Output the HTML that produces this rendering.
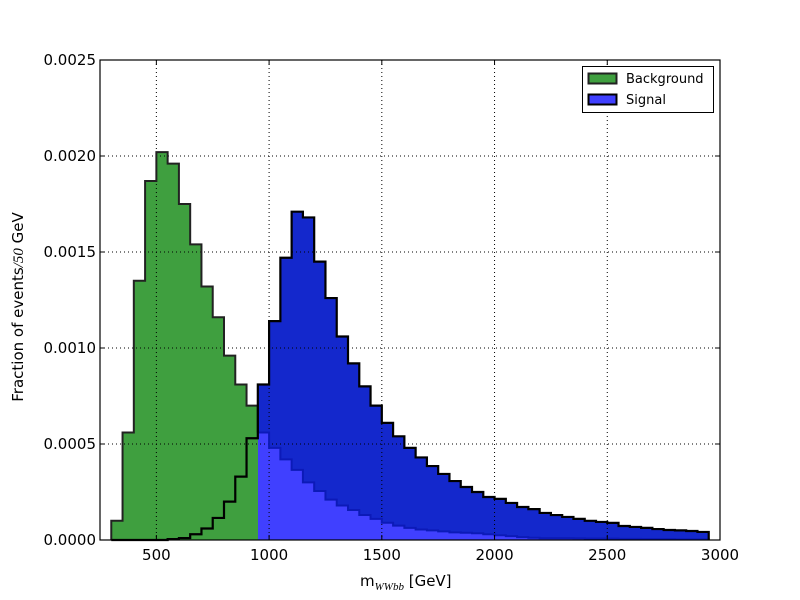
<!DOCTYPE html>
<html><head><meta charset="utf-8"><style>
html,body{margin:0;padding:0;background:#fff;}
svg text{font-family:"DejaVu Sans","Liberation Sans",sans-serif;}
</style></head><body>
<svg id="chart" width="800" height="600" viewBox="0 0 800 600" xmlns="http://www.w3.org/2000/svg" style="position:absolute;left:0;top:0">
<rect width="800" height="600" fill="#fff"/>
<g id="fills" shape-rendering="crispEdges"></g>
<g id="grid"></g>
<g id="outlines"></g>
<g id="axes"></g>
</svg>
<script>
const binStart = 300;
const binWidth = 50;
const background = [0.0001,0.00056,0.00135,0.00187,0.00202,0.00196,0.00175,0.00154,0.00132,0.00116,0.00096,0.00081,0.0007,
 0.00056,0.00048,0.00042,0.000365,0.0003,0.000255,0.00021,0.00018,0.000156,0.00013,0.00011,0.00009,0.000075,0.000063,
 0.000055,0.00005,0.000045,0.00004,0.000038,0.000035,0.00003,0.000025,0.00002,0.000015,0.000012,0.00001,0.00001,0.00001,0.000009,0.000008,0.000008,0.000007,0.000006,0.000006,0.000005,0.000005,0.000005,0.000004,0.000004,0.000004];
const signal = [0,0,0,0,0,0.000005,0.00001,0.00003,0.00006,0.000115,0.0002,0.00033,0.00053,
 0.00081,0.00114,0.00147,0.00171,0.00168,0.00145,0.00126,0.00106,0.00092,0.0008,0.0007,0.00061,0.00054,0.00048,
 0.00043,0.000385,0.000344,0.000307,0.000276,0.00025,0.000224,0.000214,0.000193,0.000172,0.000161,0.000141,0.00013,0.00012,0.00011,0.0001,0.000094,0.000089,0.000073,0.000068,0.000063,0.000057,0.000052,0.00005,0.000047,0.000042];
const xTicks = [500,1000,1500,2000,2500,3000];
const yTicks = [0,0.0005,0.001,0.0015,0.002,0.0025];
const yTickLabels = ["0.0000","0.0005","0.0010","0.0015","0.0020","0.0025"];

const X0=100,X1=720,Y0=540,Y1=60, xmin=250,xmax=3000,ymax=0.0025;
const sx=v=>X0+(v-xmin)/(xmax-xmin)*(X1-X0);
const sy=v=>Y0-v/ymax*(Y0-Y1);
const NS="http://www.w3.org/2000/svg";
function mk(tag,attrs,parent){const e=document.createElementNS(NS,tag);for(const k in attrs)e.setAttribute(k,attrs[k]);parent.appendChild(e);return e;}
const fills=document.getElementById('fills'),grid=document.getElementById('grid'),outl=document.getElementById('outlines'),axes=document.getElementById('axes');
const n=Math.max(background.length,signal.length);
for(let i=0;i<n;i++){
  const b=background[i]||0,s=signal[i]||0;
  const xa=sx(binStart+i*binWidth),xb=sx(binStart+(i+1)*binWidth)+0.6;
  const lo=Math.min(b,s),hi=Math.max(b,s);
  if(lo>0){const r=mk('rect',{x:xa,y:sy(lo),width:xb-xa,height:sy(0)-sy(lo),fill:b>=s?'#3f9f3f':'#4040ff'},fills);
    
    }
  if(hi>lo){const r=mk('rect',{x:xa,y:sy(hi),width:xb-xa,height:sy(lo)-sy(hi)+0.6,fill:b>s?'#3f9f3f':'#1428cc'},fills);
    
    }
}
function stepPath(arr,from,to,fromZero){
  let d='';
  for(let i=from;i<to;i++){
    const v=arr[i]||0;const xa=sx(binStart+i*binWidth),xb=sx(binStart+(i+1)*binWidth);
    if(i===from){d+= fromZero?`M${xa},${sy(0)} L${xa},${sy(v)}`:`M${xa},${sy(v)}`;}else d+=` L${xa},${sy(v)}`;
    d+=` L${xb},${sy(v)}`;
  }
  return d;
}
xTicks.forEach(t=>{if(t>xmin&&t<xmax){const l=mk('line',{x1:sx(t),x2:sx(t),y1:Y1,y2:Y0,stroke:'#000','stroke-width':1,'stroke-dasharray':'1,3'},grid);
  
  }});
yTicks.forEach(t=>{if(t>0&&t<ymax){const l=mk('line',{x1:X0,x2:X1,y1:sy(t),y2:sy(t),stroke:'#000','stroke-width':1,'stroke-dasharray':'1,3'},grid);
  
  }});
const split=13;
let p=mk('path',{d:stepPath(background,0,split,true)+` L${sx(binStart+split*binWidth)},${sy(background[split])}`,fill:'none',stroke:'#222','stroke-width':2},outl);


p=mk('path',{d:stepPath(background,split,background.length,false)+` L${sx(binStart+background.length*binWidth)},${sy(0)}`,fill:'none',stroke:'#0c1ab8','stroke-width':2},outl);


p=mk('path',{d:stepPath(signal,0,signal.length,true)+` L${sx(binStart+signal.length*binWidth)},${sy(0)}`,fill:'none',stroke:'#000','stroke-width':2.2},outl);


let f=mk('rect',{x:X0,y:Y1,width:X1-X0,height:Y0-Y1,fill:'none',stroke:'#000','stroke-width':1.2},axes);


xTicks.forEach(t=>{
  const x=sx(t);
  mk('line',{x1:x,x2:x,y1:Y0,y2:Y0-5,stroke:'#000'},axes);
  mk('line',{x1:x,x2:x,y1:Y1,y2:Y1+5,stroke:'#000'},axes);
  const tx=mk('text',{x:x,y:Y0+20,'font-size':15,'text-anchor':'middle',fill:'#000'},axes);tx.textContent=t;
  
  
});
yTicks.forEach((t,i)=>{
  const y=sy(t);
  mk('line',{x1:X0,x2:X0+5,y1:y,y2:y,stroke:'#000'},axes);
  mk('line',{x1:X1,x2:X1-5,y1:y,y2:y,stroke:'#000'},axes);
  const tx=mk('text',{x:X0-4,y:y+5,'font-size':15,'text-anchor':'end',fill:'#000'},axes);tx.textContent=yTickLabels[i];
  
  
});
</script>
<svg width="800" height="600" style="position:absolute;left:0;top:0" xmlns="http://www.w3.org/2000/svg">
<text x="360" y="586" font-size="15" font-family="DejaVu Sans, sans-serif">m<tspan font-size="11" font-style="italic" font-family="Liberation Serif, serif" dy="4">WWbb</tspan><tspan dy="-4"> [GeV]</tspan></text>
<text transform="translate(23,307) rotate(-90)" text-anchor="middle" font-size="15" font-family="DejaVu Sans, sans-serif">Fraction of events<tspan font-style="italic" font-family="Liberation Serif, serif">/50</tspan> GeV</text>
<g>
<rect x="582.5" y="66.5" width="131" height="46" fill="#fff" stroke="#000" stroke-width="1"/>
<rect x="588.5" y="73.5" width="28" height="10" fill="#3f9f3f" stroke="#222" stroke-width="2"/>
<text x="626" y="83" font-size="13" font-family="DejaVu Sans, sans-serif">Background</text>
<rect x="588.5" y="94.5" width="28" height="10" fill="#4040ff" stroke="#000" stroke-width="2"/>
<text x="626" y="104" font-size="13" font-family="DejaVu Sans, sans-serif">Signal</text>
</g>
</svg>
</body></html>
